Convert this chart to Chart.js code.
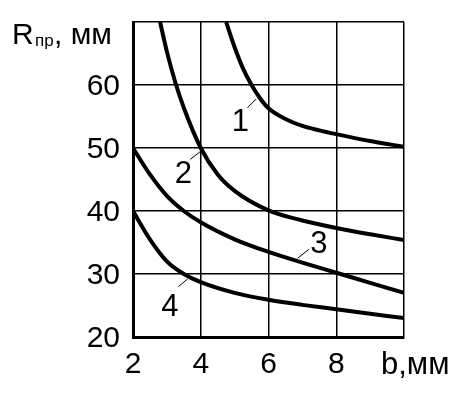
<!DOCTYPE html>
<html>
<head>
<meta charset="utf-8">
<script src="https://cdn.jsdelivr.net/npm/chart.js@4.4.0/dist/chart.umd.min.js"></script>
<style>
html, body { margin: 0; padding: 0; background: #fff; }
#chart { display: block; }
</style>
</head>
<body>
<canvas id="chart" width="473" height="398"></canvas>
<script>
// axis ranges / ticks
var xTicks = [2, 4, 6, 8, 10];
var yTicks = [20, 30, 40, 50, 60, 70];

// curves (b, мм -> R, мм)
var curve1B = [4.75, 5.0, 5.25, 5.5, 5.75, 6, 6.5, 7, 7.5, 8, 9, 10];
var curve1R = [70, 66, 62.6, 60, 57.9, 56.3, 54.6, 53.5, 52.8, 52.2, 51.1, 50.2];

var curve2B = [2.8, 3.0, 3.25, 3.5, 4, 4.5, 5, 6, 7, 8, 9, 10];
var curve2R = [70, 65.3, 60.4, 56.4, 50, 45.8, 43.2, 40.1, 38.5, 37.3, 36.3, 35.4];

var curve3B = [2, 2.5, 3, 3.5, 4, 5, 6, 7, 8, 9, 10];
var curve3R = [50, 45.8, 42.4, 40.0, 38.2, 35.5, 33.5, 31.8, 30.2, 28.6, 27];

var curve4B = [2, 2.5, 3, 3.5, 4, 5, 6, 7, 8, 9, 10];
var curve4R = [40, 35.5, 32.0, 30.0, 28.7, 27.0, 25.9, 25.1, 24.4, 23.7, 23];

var curveNames = ['1', '2', '3', '4'];

function toPoints(xs, ys) {
    return xs.map(function (x, i) { return { x: x, y: ys[i] }; });
}

var FONT = 'Liberation Sans, Arial, sans-serif';

function curve(xs, ys) {
    return {
        data: toPoints(xs, ys),
        borderColor: '#000',
        borderWidth: 4,
        pointRadius: 0,
        cubicInterpolationMode: 'monotone',
        fill: false
    };
}

// leader lines + numbers next to the curves, and the axis captions
var captions = {
    id: 'captions',
    afterDraw: function (chart) {
        var ctx = chart.ctx;
        var xs = chart.scales.x, ys = chart.scales.y;
        var marks = [
            { c: [5.17, 54.2], l: [5.38, 56.4, 5.64, 57.8] },
            { c: [3.49, 46.0], l: [3.69, 48.2, 3.98, 49.4] },
            { c: [7.49, 34.8], l: [6.86, 32.5, 7.19, 33.9] },
            { c: [3.09, 24.9], l: [3.34, 28.0, 3.61, 29.2] }
        ];
        ctx.save();
        ctx.fillStyle = '#000';
        ctx.strokeStyle = '#000';
        ctx.lineWidth = 1;
        ctx.textAlign = 'center';
        ctx.textBaseline = 'middle';
        ctx.font = '31px ' + FONT;
        marks.forEach(function (m, i) {
            ctx.fillText(curveNames[i], xs.getPixelForValue(m.c[0]), ys.getPixelForValue(m.c[1]) + 1);
            ctx.beginPath();
            ctx.moveTo(xs.getPixelForValue(m.l[0]), ys.getPixelForValue(m.l[1]));
            ctx.lineTo(xs.getPixelForValue(m.l[2]), ys.getPixelForValue(m.l[3]));
            ctx.stroke();
        });

        // y caption: R with subscript
        ctx.textAlign = 'left';
        ctx.textBaseline = 'alphabetic';
        ctx.font = '30px ' + FONT;
        ctx.fillText('R', 12, 44);
        ctx.font = '17px ' + FONT;
        ctx.fillText('пр', 35, 46);
        ctx.font = '30px ' + FONT;
        ctx.fillText(', мм', 54, 44);

        // x caption sits where the last tick label would be
        ctx.font = '31px ' + FONT;
        ctx.fillText('b,мм', 381, 374);
        ctx.restore();
    }
};

new Chart(document.getElementById('chart'), {
    type: 'line',
    data: {
        datasets: [
            curve(curve1B, curve1R),
            curve(curve2B, curve2R),
            curve(curve3B, curve3R),
            curve(curve4B, curve4R)
        ]
    },
    options: {
        responsive: false,
        animation: false,
        layout: { padding: { top: 22, right: 69, left: 0, bottom: 0 } },
        plugins: { legend: { display: false }, tooltip: { enabled: false } },
        scales: {
            x: {
                type: 'linear',
                min: xTicks[0],
                max: xTicks[xTicks.length - 1],
                afterBuildTicks: function (axis) {
                    axis.ticks = xTicks.map(function (v) { return { value: v }; });
                },
                afterFit: function (axis) {
                    axis.height = 61;
                    axis.paddingLeft = 0;
                    axis.paddingRight = 0;
                },
                grid: {
                    color: '#000',
                    lineWidth: 1.5,
                    drawTicks: false
                },
                border: { color: '#000', width: 3 },
                ticks: {
                    color: '#000',
                    padding: 10,
                    font: { family: FONT, size: 30 },
                    callback: function (v) { return v === 10 ? '' : v; }
                }
            },
            y: {
                min: yTicks[0],
                max: yTicks[yTicks.length - 1],
                afterBuildTicks: function (axis) {
                    axis.ticks = yTicks.map(function (v) { return { value: v }; });
                },
                afterFit: function (axis) {
                    axis.width = 133;
                    axis.paddingTop = 0;
                    axis.paddingBottom = 0;
                },
                grid: {
                    color: '#000',
                    lineWidth: 1.5,
                    drawTicks: false
                },
                border: { color: '#000', width: 3 },
                ticks: {
                    color: '#000',
                    padding: 13,
                    labelOffset: 2,
                    font: { family: FONT, size: 30 },
                    callback: function (v) { return v === 70 ? '' : v; }
                }
            }
        }
    },
    plugins: [captions]
});
</script>
</body>
</html>
